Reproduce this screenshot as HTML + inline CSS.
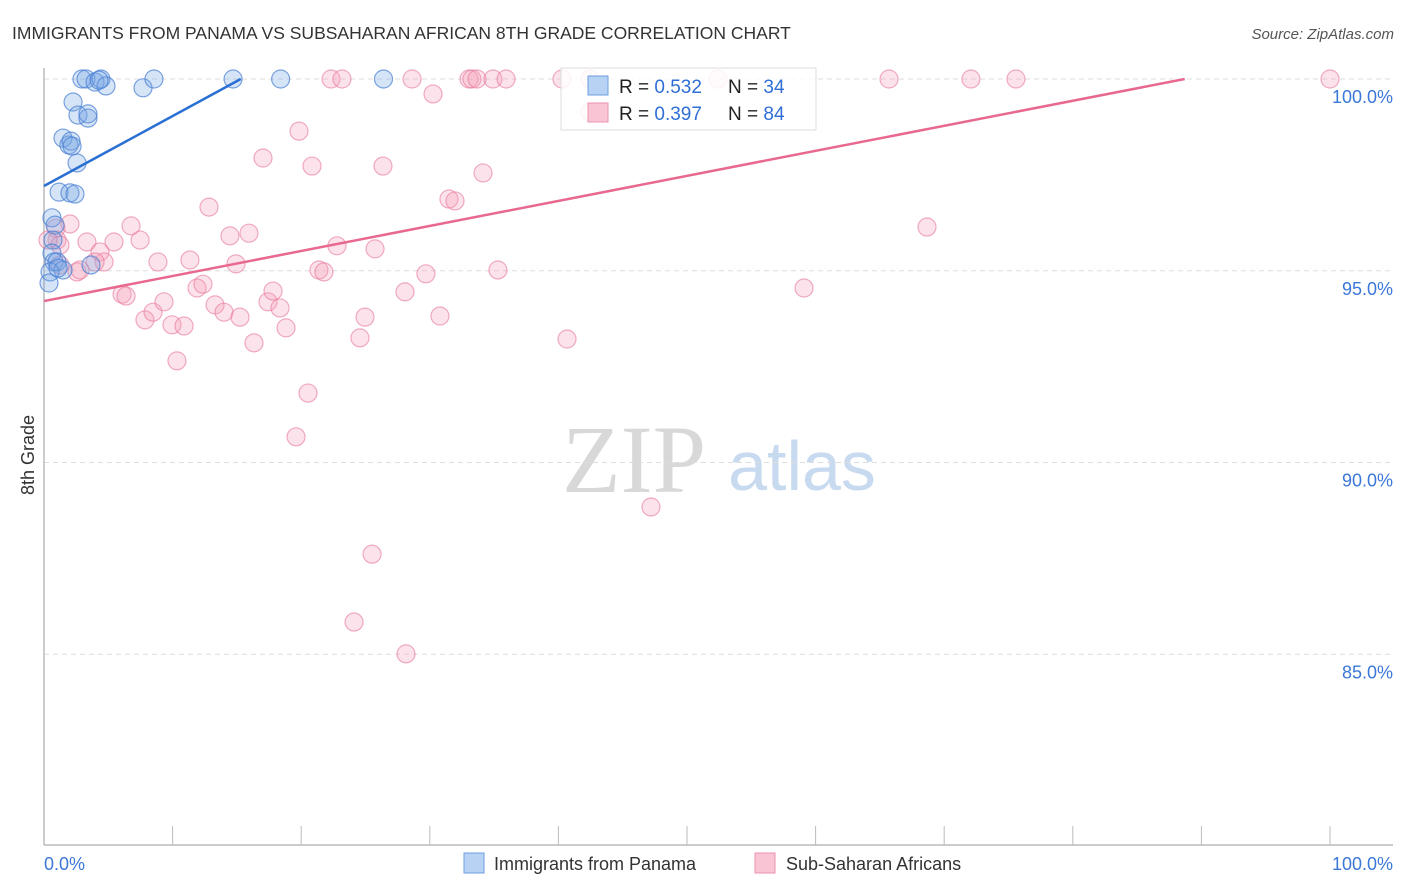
<!DOCTYPE html>
<html><head><meta charset="utf-8"><style>
body{margin:0;background:#fff;font-family:"Liberation Sans",sans-serif;}
svg{display:block}
</style></head><body>
<svg id="chart" width="1406" height="892" xmlns="http://www.w3.org/2000/svg">
<text x="12" y="39" font-size="17.5" fill="#333">IMMIGRANTS FROM PANAMA VS SUBSAHARAN AFRICAN 8TH GRADE CORRELATION CHART</text>
<text x="1394" y="39" font-size="15" fill="#555" font-style="italic" text-anchor="end">Source: ZipAtlas.com</text>
<text x="34" y="455" font-size="18" fill="#333" text-anchor="middle" transform="rotate(-90 34 455)">8th Grade</text>
<g>
<text x="634" y="492" font-size="96" font-family="Liberation Serif,serif" fill="#d8d8d8" text-anchor="middle">ZIP</text>
<text x="802" y="490" font-size="70" fill="#c8daf0" text-anchor="middle">atlas</text>
</g>
<g id="grid"></g><g id="axes"></g><g id="pts"></g><g id="lines"></g>
<g>
<rect x="561" y="68" width="255" height="62" fill="#fff" fill-opacity="0.85" stroke="#ddd"/>
<rect x="588" y="76" width="20" height="19" fill="#b8d2f4" stroke="#6d9de0"/>
<rect x="588" y="103" width="20" height="19" fill="#f9c5d4" stroke="#ec93ae"/>
<text x="619" y="93" font-size="19" fill="#222">R = <tspan fill="#2f6fd6">0.532</tspan></text>
<text x="728" y="93" font-size="19" fill="#222">N = <tspan fill="#2f6fd6">34</tspan></text>
<text x="619" y="120" font-size="19" fill="#222">R = <tspan fill="#2f6fd6">0.397</tspan></text>
<text x="728" y="120" font-size="19" fill="#222">N = <tspan fill="#2f6fd6">84</tspan></text>
</g>
<g>
<rect x="464" y="853" width="20" height="20" fill="#b8d2f4" stroke="#6d9de0"/>
<text x="494" y="870" font-size="18" fill="#333">Immigrants from Panama</text>
<rect x="755" y="853" width="20" height="20" fill="#f9c5d4" stroke="#ec93ae"/>
<text x="786" y="870" font-size="18" fill="#333">Sub-Saharan Africans</text>
</g>
</svg>
<script>
const yTicks=[100,95,90,85];
const yTickLabels=["100.0%","95.0%","90.0%","85.0%"];
const xTickLabels=["0.0%","100.0%"];
const blueX=[2.95,3.27,3.97,4.43,4.82,4.28,7.70,8.55,14.7,18.4,26.4,2.26,2.64,3.42,3.42,1.48,1.94,2.10,2.18,2.57,1.17,2.02,2.41,0.62,0.86,0.70,0.62,0.78,1.01,1.48,0.47,0.39,3.65,1.09];
const blueY=[100,100,99.92,100,99.82,99.97,99.77,100,100,100,100,99.40,99.06,98.98,99.09,98.46,98.28,98.38,98.25,97.81,97.05,97.03,97.00,96.38,96.19,95.80,95.46,95.23,95.23,95.02,94.97,94.68,95.15,95.07];
const pinkX=[2.02,0.93,1.01,1.24,3.34,5.44,7.47,6.77,4.35,4.67,3.97,2.57,6.07,6.38,7.85,8.48,9.33,9.95,10.89,10.34,8.86,11.35,11.90,12.36,13.30,14.00,15.24,12.83,14.46,15.94,14.93,17.03,16.33,17.42,17.81,18.35,18.82,19.83,20.84,20.53,19.60,21.38,21.77,22.78,24.96,24.57,25.74,26.36,28.07,29.70,30.79,30.25,31.49,31.96,34.14,35.30,40.67,47.20,25.51,24.11,28.15,59.10,68.66,22.32,23.17,28.62,33.05,33.28,33.67,34.91,35.93,40.28,42.46,52.41,65.71,72.08,75.58,100,42.46,1.24,2.80,0.31];
const pinkY=[96.22,96.11,95.80,95.67,95.75,95.75,95.80,96.17,95.49,95.23,95.23,94.97,94.39,94.34,93.72,93.92,94.19,93.59,93.56,92.65,95.23,95.28,94.55,94.65,94.11,93.92,93.79,96.66,95.91,95.98,95.18,97.94,93.12,94.19,94.47,94.03,93.51,98.64,97.73,91.81,90.67,95.02,94.97,95.65,93.79,93.25,95.57,97.73,94.45,94.92,93.82,99.61,96.87,96.82,97.55,95.02,93.22,88.84,87.61,85.84,85.01,94.55,96.14,100,100,100,100,100,100,100,100,100,100,100,100,100,100,100,99.14,95.15,95.02,95.80];
const blueTrend=[[0,97.21],[15.3,100]];
const pinkTrend=[[0,94.21],[88.7,100]];
const NS="http://www.w3.org/2000/svg";
const X0=44,X1=1330,YT=79,PPU=38.35;
const sx=v=>X0+(X1-X0)*v/100;
const sy=v=>YT+(100-v)*PPU;
function mk(tag,attrs,parent){const e=document.createElementNS(NS,tag);for(const k in attrs)e.setAttribute(k,attrs[k]);document.getElementById(parent).appendChild(e);return e;}
yTicks.forEach((t,i)=>{
 const l=mk('line',{x1:X0,x2:1393,y1:sy(t),y2:sy(t),stroke:'#ddd','stroke-dasharray':'5,4'},'grid');
 
 
 const tx=mk('text',{x:1393,y:sy(t)+24,'font-size':18,fill:'#3b78d8','text-anchor':'end'},'axes');
 tx.textContent=yTickLabels[i];
 
 
});
const ax=mk('line',{x1:X0,x2:X0,y1:68,y2:845,stroke:'#bbb','stroke-width':1.5},'axes');


const bx=mk('line',{x1:X0,x2:1393,y1:845,y2:845,stroke:'#bbb','stroke-width':1.5},'axes');


for(let i=1;i<=10;i++){
 const t=mk('line',{x1:sx(i*10),x2:sx(i*10),y1:826,y2:845,stroke:'#bbb'},'axes');
 
 
}
[[0,'start'],[100,'end']].forEach((p,i)=>{
 const tx=mk('text',{x:i?1393:44,y:870,'font-size':18,fill:'#3b78d8','text-anchor':p[1]},'axes');
 tx.textContent=xTickLabels[i];
 
 
});
pinkX.forEach((v,i)=>{
 const c=mk('circle',{cx:sx(v),cy:sy(pinkY[i]),r:9,fill:'rgba(245,160,185,0.3)',stroke:'rgba(230,120,155,0.6)','stroke-width':1.2},'pts');
 
 
});
blueX.forEach((v,i)=>{
 const c=mk('circle',{cx:sx(v),cy:sy(blueY[i]),r:9,fill:'rgba(120,165,230,0.3)',stroke:'rgba(70,125,210,0.7)','stroke-width':1.2},'pts');
 
 
});
const bl=mk('line',{x1:sx(blueTrend[0][0]),y1:sy(blueTrend[0][1]),x2:sx(blueTrend[1][0]),y2:sy(blueTrend[1][1]),stroke:'#2a6fd3','stroke-width':2.5},'lines');


const pl=mk('line',{x1:sx(pinkTrend[0][0]),y1:sy(pinkTrend[0][1]),x2:sx(pinkTrend[1][0]),y2:sy(pinkTrend[1][1]),stroke:'#e8688f','stroke-width':2.5},'lines');


</script>
</body></html>
